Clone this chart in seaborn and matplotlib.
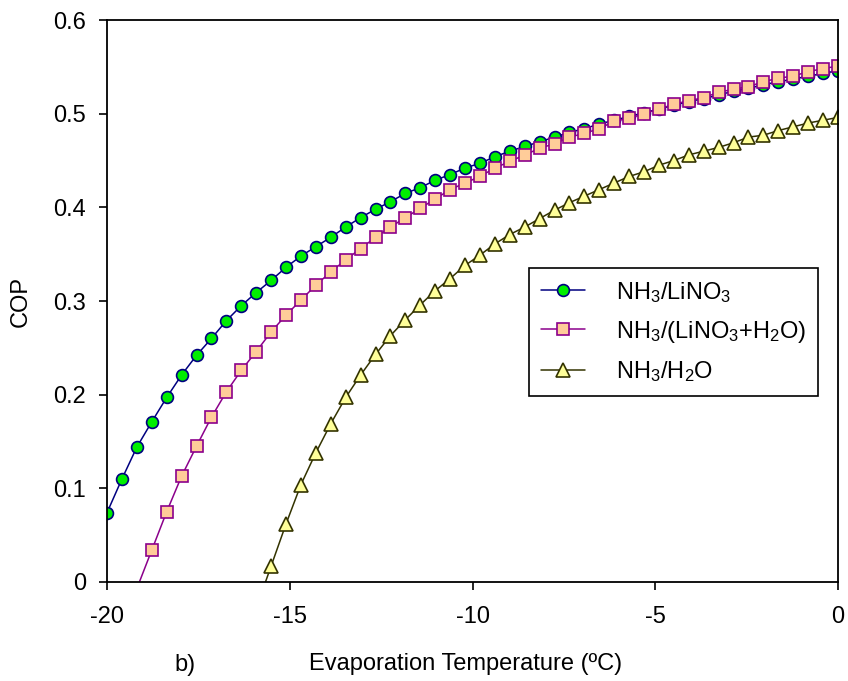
import numpy as np
import matplotlib
matplotlib.use("Agg")
import matplotlib.pyplot as plt
import seaborn as sns
from matplotlib.ticker import FuncFormatter

# evaporation temperature grid (50 points from -20 to 0 degC)
temps = np.linspace(-20, 0, 50)

# NH3/LiNO3 (all 50 points)
cop_linos = [0.074, 0.110, 0.144, 0.171, 0.197, 0.221, 0.242, 0.260, 0.279, 0.295,
             0.309, 0.322, 0.336, 0.348, 0.358, 0.368, 0.379, 0.389, 0.398, 0.406,
             0.415, 0.421, 0.429, 0.435, 0.442, 0.447, 0.454, 0.460, 0.465, 0.470,
             0.475, 0.480, 0.484, 0.489, 0.493, 0.497, 0.501, 0.505, 0.509, 0.513,
             0.516, 0.520, 0.524, 0.527, 0.531, 0.534, 0.537, 0.540, 0.543, 0.546]

# NH3/(LiNO3+H2O), starts at the 4th temperature
cop_mix = [0.034, 0.075, 0.113, 0.145, 0.176, 0.203, 0.226,
           0.246, 0.267, 0.285, 0.301, 0.317, 0.331, 0.344, 0.356, 0.368, 0.379,
           0.389, 0.399, 0.409, 0.419, 0.426, 0.433, 0.442, 0.449, 0.456, 0.463,
           0.468, 0.475, 0.479, 0.484, 0.492, 0.495, 0.500, 0.505, 0.510, 0.514,
           0.517, 0.523, 0.526, 0.529, 0.534, 0.538, 0.540, 0.545, 0.548, 0.551]

# NH3/H2O, starts at the 12th temperature
cop_water = [0.017, 0.062, 0.104, 0.138, 0.169, 0.197, 0.221, 0.243, 0.263,
             0.280, 0.296, 0.311, 0.324, 0.338, 0.349, 0.361, 0.371, 0.379, 0.388,
             0.397, 0.405, 0.412, 0.419, 0.426, 0.433, 0.438, 0.445, 0.450, 0.456,
             0.460, 0.464, 0.469, 0.475, 0.477, 0.482, 0.486, 0.490, 0.493, 0.496]

labels = [r"NH$_3$/LiNO$_3$", r"NH$_3$/(LiNO$_3$+H$_2$O)", r"NH$_3$/H$_2$O"]
x_ticks = [-20, -15, -10, -5, 0]
y_ticks = [0, 0.1, 0.2, 0.3, 0.4, 0.5, 0.6]

sns.set_style("ticks")
plt.rcParams["font.family"] = ["Liberation Sans", "DejaVu Sans"]
plt.rcParams["mathtext.fontset"] = "custom"
plt.rcParams["mathtext.rm"] = "Liberation Sans"
plt.rcParams["mathtext.it"] = "Liberation Sans"
plt.rcParams["mathtext.default"] = "regular"
plt.rcParams["axes.unicode_minus"] = False
plt.rcParams["text.color"] = "black"
plt.rcParams["axes.labelcolor"] = "black"

fig = plt.figure(figsize=(8.48, 6.81), dpi=100)
ax = fig.add_axes([0.1262, 0.1454, 0.862, 0.8252])

series = [
    (temps, cop_linos, "#000080", "o", 8.5, "#00ee00"),
    (temps[3:], cop_mix, "#8b008b", "s", 8.5, "#ffcc99"),
    (temps[11:], cop_water, "#333300", "^", 10, "#ffff99"),
]
for (xs, ys, col, mk, ms, fc), lab in zip(series, labels):
    # fitted curve runs on a little past the first point, down to the axis
    ax.plot([xs[0] - (xs[1] - xs[0]), xs[0]], [ys[0] - (ys[1] - ys[0]), ys[0]],
            color=col, linewidth=1.1)
    sns.lineplot(x=xs, y=ys, ax=ax, color=col, linewidth=1.1,
                 marker=mk, markersize=ms, markerfacecolor=fc,
                 markeredgecolor=col, markeredgewidth=1.2, label=lab)

ax.set_xlim(-20, 0)
ax.set_ylim(0, 0.6)
ax.set_xticks(x_ticks)
ax.set_yticks(y_ticks)
ax.yaxis.set_major_formatter(FuncFormatter(lambda v, p: f"{v:g}"))
ax.tick_params(axis="both", direction="out", length=6, width=1.2, labelsize=17,
               colors="black")
ax.tick_params(axis="x", pad=11)
ax.tick_params(axis="y", pad=9)
for s in ax.spines.values():
    s.set_visible(True)
    s.set_linewidth(1.3)
    s.set_color("black")

ax.set_xlabel("Evaporation Temperature (ºC)", fontsize=17, color="black")
ax.xaxis.set_label_coords(0.491, -0.127)
ax.set_ylabel("COP", fontsize=17, color="black")
ax.yaxis.set_label_coords(-0.103, 0.5)
fig.text(185 / 848, 1 - 665 / 681, "b)", fontsize=17, ha="center", va="center",
         color="black")

leg = ax.legend(loc="upper left", bbox_to_anchor=(0.577, 0.559), borderaxespad=0,
                frameon=True, fancybox=False, edgecolor="black", framealpha=1,
                fontsize=17, handlelength=1.9, handletextpad=1.3,
                borderpad=0.5, labelspacing=0.6)
leg.get_frame().set_linewidth(1.2)
for t in leg.get_texts():
    t.set_color("black")

fig.savefig("out.png", dpi=100)
